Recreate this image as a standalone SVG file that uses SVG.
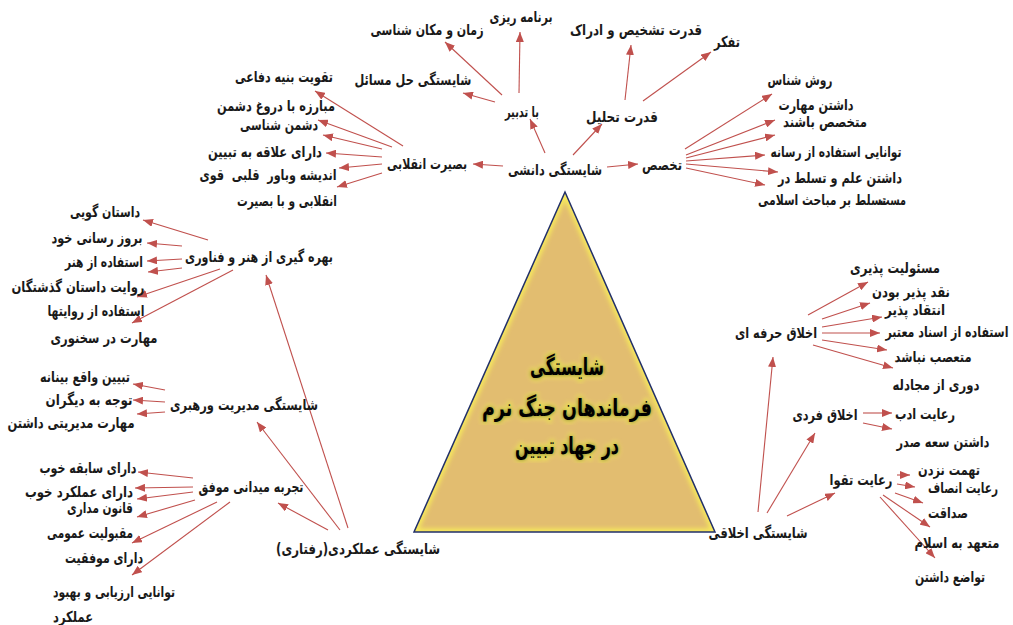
<svg xmlns="http://www.w3.org/2000/svg" width="1013" height="625" viewBox="0 0 1013 625">
<style>
text{font-family:"DejaVu Sans","Noto Sans",sans-serif;font-weight:bold;font-size:15px;fill:#1a1a1a;direction:rtl;text-anchor:middle;dominant-baseline:central}
.c line{stroke:#C0504D;stroke-width:1.1;marker-end:url(#ah)}
.title{font-size:24px;fill:#000;stroke:#F7EE5A;stroke-width:5px;stroke-linejoin:round;paint-order:stroke}
</style>
<defs>
<marker id="ah" markerUnits="userSpaceOnUse" markerWidth="10" markerHeight="8" refX="10" refY="4" orient="auto">
<path d="M0,0 L10,4 L0,8 z" fill="#C0504D"/>
</marker>
<clipPath id="tc"><polygon points="565,192 414,532 715,532"/></clipPath>
<filter id="bl" x="-10%" y="-10%" width="120%" height="120%"><feGaussianBlur stdDeviation="2"/></filter>
</defs>
<rect width="1013" height="625" fill="#fff"/>

<g id="center">
<polygon points="565,192 414,532 715,532" fill="#E2BD70"/>
<polygon points="565,192 414,532 715,532" fill="none" stroke="#F6E85C" stroke-width="7" clip-path="url(#tc)" filter="url(#bl)"/>
<polygon points="565,192 414,532 715,532" fill="none" stroke="#22306A" stroke-width="1.5"/>
<g>
<text class="title" x="567" y="367" textLength="74" lengthAdjust="spacingAndGlyphs" filter="url(#bl)">شایستگی</text>
<text class="title" x="567" y="408" textLength="170" lengthAdjust="spacingAndGlyphs" filter="url(#bl)">فرماندهان جنگ نرم</text>
<text class="title" x="567" y="446" textLength="104" lengthAdjust="spacingAndGlyphs" filter="url(#bl)">در جهاد تبیین</text>
<text class="title" x="567" y="367" textLength="74" lengthAdjust="spacingAndGlyphs" style="stroke:none">شایستگی</text>
<text class="title" x="567" y="408" textLength="170" lengthAdjust="spacingAndGlyphs" style="stroke:none">فرماندهان جنگ نرم</text>
<text class="title" x="567" y="446" textLength="104" lengthAdjust="spacingAndGlyphs" style="stroke:none">در جهاد تبیین</text>
</g>
</g>

<g id="connectors" class="c">
<line x1="545" y1="153" x2="530" y2="119"/>
<line x1="573" y1="155" x2="602" y2="124"/>
<line x1="503" y1="166" x2="473" y2="164"/>
<line x1="607" y1="167" x2="638" y2="164"/>
<line x1="519" y1="93" x2="520" y2="32"/>
<line x1="502" y1="95" x2="445" y2="42"/>
<line x1="495" y1="102" x2="463" y2="93"/>
<line x1="625" y1="100" x2="631" y2="45"/>
<line x1="643" y1="101" x2="711" y2="52"/>
<line x1="685" y1="149" x2="772" y2="94"/>
<line x1="686" y1="155" x2="775" y2="120"/>
<line x1="686" y1="158" x2="775" y2="135"/>
<line x1="686" y1="161" x2="765" y2="155"/>
<line x1="686" y1="164" x2="778" y2="172"/>
<line x1="686" y1="168" x2="765" y2="185"/>
<line x1="403" y1="146" x2="315" y2="91"/>
<line x1="392" y1="147" x2="318" y2="120"/>
<line x1="382" y1="149" x2="323" y2="135"/>
<line x1="382" y1="157" x2="326" y2="153"/>
<line x1="382" y1="164" x2="339" y2="168"/>
<line x1="382" y1="173" x2="337" y2="187"/>
<line x1="208" y1="240" x2="143" y2="220"/>
<line x1="182" y1="246" x2="147" y2="243"/>
<line x1="182" y1="259" x2="147" y2="261"/>
<line x1="182" y1="268" x2="148" y2="272"/>
<line x1="220" y1="269" x2="137" y2="297"/>
<line x1="233" y1="270" x2="132" y2="323"/>
<line x1="348" y1="528" x2="266" y2="275"/>
<line x1="165" y1="390" x2="133" y2="384"/>
<line x1="165" y1="402" x2="133" y2="400"/>
<line x1="165" y1="412" x2="137" y2="414"/>
<line x1="340" y1="530" x2="257" y2="422"/>
<line x1="193" y1="478" x2="138" y2="472"/>
<line x1="193" y1="487" x2="135" y2="488"/>
<line x1="193" y1="492" x2="137" y2="499"/>
<line x1="195" y1="500" x2="137" y2="517"/>
<line x1="217" y1="502" x2="132" y2="543"/>
<line x1="230" y1="502" x2="132" y2="575"/>
<line x1="328" y1="530" x2="278" y2="503"/>
<line x1="758" y1="512" x2="773" y2="357"/>
<line x1="767" y1="513" x2="815" y2="433"/>
<line x1="787" y1="516" x2="835" y2="493"/>
<line x1="808" y1="315" x2="868" y2="282"/>
<line x1="822" y1="319" x2="870" y2="303"/>
<line x1="822" y1="327" x2="882" y2="317"/>
<line x1="822" y1="333" x2="880" y2="333"/>
<line x1="822" y1="340" x2="887" y2="350"/>
<line x1="813" y1="345" x2="893" y2="368"/>
<line x1="863" y1="413" x2="892" y2="413"/>
<line x1="863" y1="423" x2="892" y2="429"/>
<line x1="897" y1="475" x2="910" y2="475"/>
<line x1="897" y1="484" x2="915" y2="487"/>
<line x1="895" y1="493" x2="923" y2="503"/>
<line x1="883" y1="495" x2="930" y2="527"/>
<line x1="880" y1="497" x2="935" y2="558"/>
</g>

<g id="n-danesh"><text x="555" y="170" textLength="94" lengthAdjust="spacingAndGlyphs">شایستگی دانشی</text></g>
<g id="n-tadbir"><text x="522" y="112" textLength="34" lengthAdjust="spacingAndGlyphs">با تدبیر</text></g>
<g id="n-tahlil"><text x="622" y="117" textLength="72" lengthAdjust="spacingAndGlyphs">قدرت تحلیل</text></g>
<g id="n-basirat"><text x="427" y="164" textLength="80" lengthAdjust="spacingAndGlyphs">بصیرت انقلابی</text></g>
<g id="n-takhasos"><text x="662" y="165" textLength="40" lengthAdjust="spacingAndGlyphs">تخصص</text></g>
<g id="n-barname"><text x="521" y="17" textLength="63" lengthAdjust="spacingAndGlyphs">برنامه ریزی</text></g>
<g id="n-zaman"><text x="427" y="30" textLength="113" lengthAdjust="spacingAndGlyphs">زمان و مکان شناسی</text></g>
<g id="n-hal"><text x="413" y="80" textLength="117" lengthAdjust="spacingAndGlyphs">شایستگی حل مسائل</text></g>
<g id="n-tashkhis"><text x="636" y="30" textLength="132" lengthAdjust="spacingAndGlyphs">قدرت تشخیص و ادراک</text></g>
<g id="n-tafakor"><text x="727" y="42" textLength="26" lengthAdjust="spacingAndGlyphs">تفکر</text></g>
<g id="n-ravesh"><text x="800" y="80" textLength="65" lengthAdjust="spacingAndGlyphs">روش شناس</text></g>
<g id="n-maharat"><text x="816" y="105" textLength="75" lengthAdjust="spacingAndGlyphs">داشتن مهارت</text></g>
<g id="n-motakhases"><text x="825" y="122" textLength="84" lengthAdjust="spacingAndGlyphs">متخصص باشند</text></g>
<g id="n-resane"><text x="836" y="152" textLength="131" lengthAdjust="spacingAndGlyphs">توانایی استفاده از رسانه</text></g>
<g id="n-elm"><text x="840" y="178" textLength="124" lengthAdjust="spacingAndGlyphs">داشتن علم و تسلط در</text></g>
<g id="n-taslot"><text x="822" y="200" textLength="128" lengthAdjust="spacingAndGlyphs">تسلط بر مباحث اسلامی</text><text x="893" y="200" textLength="26" lengthAdjust="spacingAndGlyphs">مست</text></g>

<g id="n-taghviat"><text x="284" y="77" textLength="98" lengthAdjust="spacingAndGlyphs">تقویت بنیه دفاعی</text></g>
<g id="n-mobareze"><text x="276" y="106" textLength="118" lengthAdjust="spacingAndGlyphs">مبارزه با دروغ دشمن</text></g>
<g id="n-doshman"><text x="279" y="125" textLength="78" lengthAdjust="spacingAndGlyphs">دشمن شناسی</text></g>
<g id="n-alaghe"><text x="265" y="152" textLength="114" lengthAdjust="spacingAndGlyphs">دارای علاقه به تبیین</text></g>
<g id="n-andishe"><text x="268" y="175" xml:space="preserve" textLength="137" lengthAdjust="spacingAndGlyphs">اندیشه وباور  قلبی  قوی</text></g>
<g id="n-enghelabi"><text x="287" y="201" textLength="100" lengthAdjust="spacingAndGlyphs">انقلابی و با بصیرت</text></g>

<g id="n-honar"><text x="259" y="257" textLength="148" lengthAdjust="spacingAndGlyphs">بهره گیری از هنر و فناوری</text></g>
<g id="n-dastan"><text x="105" y="212" textLength="70" lengthAdjust="spacingAndGlyphs">داستان گویی</text></g>
<g id="n-beruz"><text x="97" y="238" textLength="91" lengthAdjust="spacingAndGlyphs">بروز رسانی خود</text></g>
<g id="n-estefade-honar"><text x="104" y="262" textLength="78" lengthAdjust="spacingAndGlyphs">استفاده از هنر</text></g>
<g id="n-revayat"><text x="78" y="287" textLength="133" lengthAdjust="spacingAndGlyphs">روایت داستان گذشتگان</text></g>
<g id="n-revayatha"><text x="96" y="311" textLength="97" lengthAdjust="spacingAndGlyphs">استفاده از روایتها</text></g>
<g id="n-sokhan"><text x="104" y="338" textLength="107" lengthAdjust="spacingAndGlyphs">مهارت در سخنوری</text></g>

<g id="n-modiriat"><text x="244" y="405" textLength="148" lengthAdjust="spacingAndGlyphs">شایستگی مدیریت ورهبری</text></g>
<g id="n-vaghe"><text x="85" y="377" textLength="90" lengthAdjust="spacingAndGlyphs">تبیین واقع بینانه</text></g>
<g id="n-tavajoh"><text x="89" y="400" textLength="87" lengthAdjust="spacingAndGlyphs">توجه به دیگران</text></g>
<g id="n-maharat-modiriati"><text x="71" y="423" textLength="127" lengthAdjust="spacingAndGlyphs">مهارت مدیریتی داشتن</text></g>

<g id="n-tajrobe"><text x="251" y="487" textLength="105" lengthAdjust="spacingAndGlyphs">تجربه میدانی موفق</text></g>
<g id="n-sabeghe"><text x="88" y="468" textLength="97" lengthAdjust="spacingAndGlyphs">دارای سابقه خوب</text></g>
<g id="n-amalkard"><text x="79" y="492" textLength="108" lengthAdjust="spacingAndGlyphs">دارای عملکرد خوب</text></g>
<g id="n-ghanun"><text x="100" y="508" textLength="66" lengthAdjust="spacingAndGlyphs">قانون مداری</text></g>
<g id="n-maghbuliat"><text x="90" y="533" textLength="86" lengthAdjust="spacingAndGlyphs">مقبولیت عمومی</text></g>
<g id="n-movafaghiat"><text x="104" y="558" textLength="78" lengthAdjust="spacingAndGlyphs">دارای موفقیت</text></g>
<g id="n-arzyabi"><text x="114" y="592" textLength="122" lengthAdjust="spacingAndGlyphs">توانایی ارزیابی و بهبود</text><text x="73" y="617" textLength="40" lengthAdjust="spacingAndGlyphs">عملکرد</text></g>

<g id="n-amalkardi"><text x="358" y="549" textLength="164" lengthAdjust="spacingAndGlyphs">شایستگی عملکردی(رفتاری)</text></g>

<g id="n-akhlaghi"><text x="758" y="533" textLength="99" lengthAdjust="spacingAndGlyphs">شایستگی اخلاقی</text></g>
<g id="n-herfe"><text x="776" y="333" textLength="82" lengthAdjust="spacingAndGlyphs">اخلاق حرفه ای</text></g>
<g id="n-masuliat"><text x="895" y="268" textLength="90" lengthAdjust="spacingAndGlyphs">مسئولیت پذیری</text></g>
<g id="n-naghd"><text x="911" y="292" textLength="78" lengthAdjust="spacingAndGlyphs">نقد پذیر بودن</text></g>
<g id="n-enteghad"><text x="915" y="310" textLength="60" lengthAdjust="spacingAndGlyphs">انتقاد پذیر</text></g>
<g id="n-asnad"><text x="947" y="332" textLength="123" lengthAdjust="spacingAndGlyphs">استفاده از اسناد معتبر</text></g>
<g id="n-taasob"><text x="933" y="357" textLength="77" lengthAdjust="spacingAndGlyphs">متعصب نباشد</text></g>
<g id="n-mojadele"><text x="936" y="385" textLength="87" lengthAdjust="spacingAndGlyphs">دوری از مجادله</text></g>
<g id="n-fardi"><text x="825" y="415" textLength="65" lengthAdjust="spacingAndGlyphs">اخلاق فردی</text></g>
<g id="n-adab"><text x="925" y="414" textLength="60" lengthAdjust="spacingAndGlyphs">رعایت ادب</text></g>
<g id="n-sadr"><text x="943" y="442" textLength="93" lengthAdjust="spacingAndGlyphs">داشتن سعه صدر</text></g>
<g id="n-taghva"><text x="861" y="480" textLength="63" lengthAdjust="spacingAndGlyphs">رعایت تقوا</text></g>
<g id="n-tohmat"><text x="949" y="470" textLength="62" lengthAdjust="spacingAndGlyphs">تهمت نزدن</text></g>
<g id="n-ensaf"><text x="963" y="488" textLength="70" lengthAdjust="spacingAndGlyphs">رعایت انصاف</text></g>
<g id="n-sedaghat"><text x="948" y="513" textLength="40" lengthAdjust="spacingAndGlyphs">صداقت</text></g>
<g id="n-eslam"><text x="957" y="543" textLength="85" lengthAdjust="spacingAndGlyphs">متعهد به اسلام</text></g>
<g id="n-tavazo"><text x="950" y="577" textLength="70" lengthAdjust="spacingAndGlyphs">تواضع داشتن</text></g>
</svg>
